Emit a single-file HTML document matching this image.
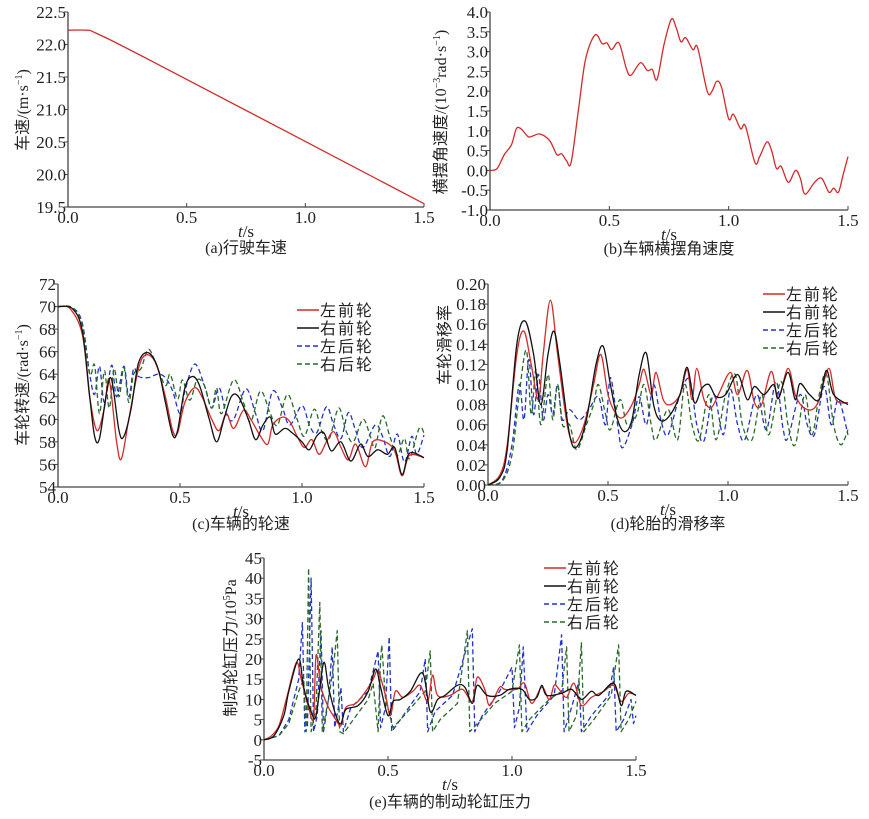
<!DOCTYPE html>
<html><head><meta charset="utf-8">
<style>
body{margin:0;background:#fff;}
svg{display:block;font-family:"Liberation Serif","Noto Serif CJK SC",serif;}
.tk{font-size:17px;fill:#222;}
.cap{font-size:16px;fill:#222;font-family:"Liberation Serif","Noto Sans CJK SC",serif;}
.yt{font-size:16px;fill:#222;font-family:"Liberation Serif","Noto Sans CJK SC",sans-serif;}
.lg{font-size:16px;fill:#222;font-family:"Noto Sans CJK SC",sans-serif;letter-spacing:2px;}
</style></head>
<body>
<svg id="fig" width="869" height="819" viewBox="0 0 869 819"></svg>
<script>
// ---------- DATA ----------
const seriesNames=["左前轮","右前轮","左后轮","右后轮"];
const xTicks=[0,0.5,1.0,1.5];
const xTickLabels=["0.0","0.5","1.0","1.5"];
// (a)
const aT=[0,0.08,0.12,0.35,1.5];
const aV=[22.22,22.22,22.17,21.75,19.55];
const aYTicks=[19.5,20.0,20.5,21.0,21.5,22.0,22.5];
// (b)
const bT=[0,0.03,0.06,0.09,0.11,0.13,0.16,0.18,0.21,0.25,0.28,0.30,0.32,0.34,0.37,0.40,0.44,0.47,0.49,0.51,0.54,0.57,0.59,0.63,0.66,0.68,0.70,0.73,0.76,0.78,0.80,0.82,0.85,0.87,0.91,0.93,0.95,0.97,1.00,1.02,1.05,1.07,1.11,1.13,1.16,1.18,1.20,1.22,1.25,1.28,1.30,1.32,1.36,1.39,1.42,1.44,1.46,1.48,1.5];
const bV=[0,0.05,0.4,0.65,1.05,1.05,0.85,0.87,0.92,0.75,0.4,0.42,0.25,0.2,1.5,2.8,3.42,3.2,3.22,3.05,3.22,2.6,2.4,2.72,2.52,2.55,2.3,3.2,3.82,3.6,3.25,3.35,3.05,3.1,2.0,2.0,2.25,2.1,1.3,1.42,1.05,1.12,0.2,0.35,0.72,0.5,0.05,0.1,-0.3,0.0,-0.2,-0.6,-0.3,-0.2,-0.55,-0.45,-0.55,-0.1,0.35];
const bYTicks=[-1.0,-0.5,0.0,0.5,1.0,1.5,2.0,2.5,3.0,3.5,4.0];
// (c)
const cLF_T=[0,0.05,0.1,0.13,0.16,0.19,0.21,0.24,0.26,0.29,0.33,0.36,0.40,0.44,0.47,0.49,0.52,0.56,0.59,0.63,0.66,0.69,0.72,0.76,0.79,0.83,0.86,0.88,0.92,0.95,0.98,1.01,1.04,1.07,1.10,1.13,1.16,1.19,1.22,1.26,1.29,1.34,1.38,1.41,1.44,1.5];
const cLF_V=[70,69.8,67.5,62,59,61,63.5,58,56.5,60,64.5,65.7,65,62,59,58.8,61.5,62.8,62,60,59,60.5,59.2,60.8,60,58.5,57.8,59.5,60.2,59.8,58.5,57.5,58.2,56.9,58,58.9,57.5,56.4,57.8,55.8,58,58,57.2,55,56.8,56.6];
const cRF_T=[0,0.06,0.1,0.13,0.15,0.17,0.2,0.22,0.25,0.27,0.3,0.33,0.37,0.41,0.44,0.47,0.49,0.52,0.55,0.58,0.62,0.65,0.68,0.71,0.74,0.78,0.81,0.84,0.87,0.89,0.93,0.96,1.0,1.03,1.06,1.09,1.12,1.16,1.20,1.24,1.27,1.31,1.35,1.38,1.41,1.44,1.5];
const cRF_V=[70,69.8,67.8,62,58.5,58.3,62.5,63.5,59,58.5,61,65,65.9,64.5,61.5,58.6,59,62.8,63.8,63,60,58,60,62,62,60,58.2,59.5,60.2,58.7,59.2,58.8,58,57.3,58.5,58.8,57.2,58,56.3,57.8,56.7,57.3,56.9,57.5,55.1,57,56.6];
const cLR_T=[0,0.06,0.1,0.13,0.15,0.17,0.19,0.22,0.24,0.27,0.29,0.31,0.33,0.37,0.41,0.44,0.47,0.5,0.52,0.56,0.6,0.63,0.66,0.69,0.72,0.77,0.81,0.84,0.88,0.92,0.95,1.00,1.03,1.06,1.10,1.13,1.16,1.19,1.22,1.25,1.30,1.33,1.36,1.39,1.42,1.45,1.47,1.5];
const cLR_V=[70,69.9,68.5,64,62.2,64.7,61.5,64.8,62,64.7,62,64.5,63.8,63.7,64,63.7,62.5,60.5,62.5,64.9,63,61,62.8,60.5,60,62.7,60.5,59,62.5,61,59.5,61.2,59.5,58.8,61.1,59.5,58.3,60.6,59,57.5,59.5,58.5,56.7,58.7,56.2,58.5,56.9,58.6];
const cRR_T=[0,0.06,0.1,0.13,0.15,0.17,0.19,0.21,0.23,0.25,0.27,0.29,0.31,0.34,0.37,0.40,0.44,0.46,0.49,0.51,0.54,0.57,0.6,0.63,0.65,0.67,0.72,0.76,0.79,0.83,0.87,0.9,0.94,0.98,1.01,1.05,1.08,1.11,1.15,1.18,1.21,1.25,1.28,1.3,1.33,1.36,1.39,1.42,1.44,1.48,1.5];
const cRR_V=[70,69.9,68.3,64,64.8,60.5,64.3,61,64.5,62,64.6,61.5,64,64.5,66.2,65,63,64,61.8,63.5,61.7,63.5,63,61,62.8,60.5,63.5,61.5,59.8,62.5,60.5,59.5,62.2,60,58.5,60.9,59,58.2,61,59,58,60,58.5,57.5,60.3,58.5,56.8,58.3,56.5,59.2,58.8];
const cYTicks=[54,56,58,60,62,64,66,68,70,72];
// (d)
const dLF_T=[0,0.05,0.08,0.12,0.15,0.18,0.21,0.23,0.26,0.29,0.33,0.36,0.40,0.44,0.47,0.50,0.53,0.56,0.60,0.63,0.65,0.68,0.70,0.73,0.76,0.80,0.83,0.85,0.87,0.9,0.93,0.96,1.01,1.04,1.08,1.11,1.14,1.18,1.21,1.25,1.28,1.31,1.35,1.38,1.42,1.45,1.5];
const dLF_V=[0,0.01,0.04,0.13,0.153,0.12,0.085,0.13,0.184,0.13,0.06,0.042,0.06,0.1,0.13,0.09,0.072,0.067,0.08,0.1,0.115,0.09,0.112,0.085,0.08,0.09,0.115,0.085,0.116,0.085,0.077,0.09,0.112,0.09,0.114,0.082,0.08,0.113,0.087,0.116,0.09,0.078,0.075,0.085,0.116,0.085,0.082];
const dRF_T=[0,0.05,0.08,0.12,0.155,0.19,0.22,0.25,0.275,0.30,0.34,0.37,0.41,0.45,0.48,0.51,0.54,0.57,0.6,0.63,0.66,0.69,0.72,0.76,0.80,0.83,0.86,0.89,0.92,0.95,0.99,1.04,1.08,1.11,1.15,1.19,1.21,1.25,1.28,1.30,1.34,1.38,1.41,1.44,1.5];
const dRF_V=[0,0.008,0.035,0.14,0.163,0.13,0.08,0.13,0.153,0.12,0.05,0.038,0.065,0.12,0.138,0.1,0.065,0.053,0.065,0.11,0.131,0.08,0.064,0.07,0.09,0.117,0.082,0.096,0.1,0.088,0.09,0.11,0.085,0.098,0.09,0.1,0.086,0.112,0.085,0.101,0.09,0.085,0.114,0.09,0.08];
const dLR_T=[0,0.06,0.1,0.13,0.15,0.17,0.19,0.21,0.23,0.25,0.27,0.29,0.31,0.34,0.38,0.42,0.46,0.49,0.51,0.54,0.56,0.60,0.63,0.66,0.69,0.72,0.75,0.80,0.84,0.87,0.9,0.94,0.98,1.01,1.04,1.07,1.12,1.16,1.2,1.23,1.25,1.3,1.33,1.36,1.4,1.43,1.46,1.5];
const dLR_V=[0,0.005,0.04,0.1,0.065,0.125,0.07,0.11,0.065,0.09,0.07,0.1,0.065,0.075,0.065,0.075,0.088,0.06,0.107,0.06,0.037,0.06,0.088,0.06,0.1,0.065,0.05,0.09,0.105,0.06,0.044,0.09,0.05,0.095,0.06,0.045,0.09,0.055,0.103,0.055,0.047,0.09,0.06,0.05,0.098,0.06,0.085,0.05];
const dRR_T=[0,0.06,0.1,0.13,0.16,0.18,0.20,0.22,0.25,0.27,0.29,0.31,0.34,0.37,0.41,0.44,0.46,0.49,0.51,0.55,0.58,0.62,0.65,0.68,0.70,0.75,0.79,0.82,0.85,0.88,0.92,0.95,0.99,1.03,1.06,1.1,1.14,1.17,1.22,1.25,1.28,1.32,1.35,1.38,1.41,1.44,1.47,1.5];
const dRR_V=[0,0.004,0.03,0.09,0.134,0.07,0.115,0.06,0.11,0.065,0.1,0.06,0.06,0.035,0.06,0.08,0.1,0.07,0.055,0.085,0.06,0.07,0.1,0.06,0.045,0.075,0.045,0.1,0.06,0.045,0.09,0.045,0.09,0.11,0.06,0.045,0.09,0.05,0.103,0.06,0.04,0.09,0.05,0.09,0.11,0.06,0.04,0.055];
const dYTicks=[0,0.02,0.04,0.06,0.08,0.10,0.12,0.14,0.16,0.18,0.20];
const dYTickLabels=["0.00","0.02","0.04","0.06","0.08","0.10","0.12","0.14","0.16","0.18","0.20"];
// (e)
const eLF_T=[0,0.03,0.06,0.09,0.13,0.15,0.18,0.2,0.21,0.23,0.26,0.29,0.31,0.33,0.37,0.41,0.44,0.46,0.49,0.51,0.53,0.56,0.6,0.63,0.66,0.68,0.7,0.75,0.8,0.84,0.86,0.89,0.91,0.95,0.97,1.02,1.05,1.08,1.12,1.15,1.17,1.19,1.22,1.25,1.28,1.32,1.37,1.41,1.44,1.47,1.5];
const eLF_V=[0,1,3.5,10,19,15,8,5.5,21,13,8,5,3.5,8,9,12,15,17,11,6,12,10.5,12,13.5,9.5,16,11,11,12.5,9.5,15.5,12.5,8.5,13,12.5,12.5,14,9,13,10,13.5,12.5,10.5,14,8.5,10.5,12,13.5,9.5,11.5,11];
const eRF_T=[0,0.04,0.08,0.1,0.14,0.16,0.19,0.21,0.24,0.26,0.29,0.31,0.33,0.38,0.42,0.45,0.47,0.5,0.52,0.55,0.59,0.64,0.67,0.7,0.73,0.78,0.81,0.84,0.86,0.9,0.95,0.99,1.04,1.07,1.1,1.12,1.14,1.2,1.24,1.28,1.32,1.35,1.41,1.44,1.46,1.5];
const eRF_V=[0,1,6,12,20,13,7,6,19,13,6,4,7.5,8.5,12,17.5,13,6,9.5,10,12,16.5,7,10,11,13.5,13,9,13.5,11,11,12.5,12.5,10,10.5,13.5,11,11.5,12.5,10,12,11,14,8.5,12,11];
const eLR_T=[0,0.06,0.1,0.14,0.155,0.165,0.175,0.19,0.2,0.215,0.23,0.24,0.26,0.275,0.285,0.3,0.31,0.32,0.35,0.42,0.46,0.47,0.49,0.505,0.515,0.55,0.63,0.65,0.66,0.69,0.76,0.84,0.85,0.88,0.95,1.0,1.01,1.03,1.045,1.06,1.1,1.17,1.2,1.21,1.24,1.27,1.28,1.32,1.39,1.41,1.42,1.45,1.48,1.49,1.5];
const eLR_V=[0,1,5,15,29,2,3,40,2,6,27,2,10,23,3,8,13,2,8,12,22,3,8,25.5,2,5,12,20,2,7,11,27.5,2,6,12,18,3,8,23,2,6,11,26,2,8,14.5,2,6,11,18,2,5,10,4,6];
const eRR_T=[0,0.06,0.1,0.14,0.16,0.17,0.18,0.19,0.21,0.225,0.235,0.26,0.28,0.295,0.305,0.32,0.36,0.42,0.44,0.46,0.47,0.475,0.49,0.52,0.58,0.65,0.67,0.68,0.71,0.78,0.82,0.83,0.86,0.93,1.0,1.03,1.04,1.07,1.15,1.2,1.22,1.23,1.26,1.28,1.29,1.33,1.4,1.43,1.44,1.47,1.5];
const eRR_V=[0,1,4,12,15,2,42.5,2,8,34,2,10,18,27,2,1.5,5,10,14,2,20,23.5,10,3,7,12,22,2,5,9,27,2,4,9,12,23.5,2,5,10,12,23,2,6,24,2,5,11,23.5,2,5,9.5];
const eYTicks=[-5,0,5,10,15,20,25,30,35,40,45];

// ---------- RENDER ----------
const NS="http://www.w3.org/2000/svg";
const svg=document.getElementById('fig');
function mk(tag,attrs,parent){const e=document.createElementNS(NS,tag);for(const k in attrs)e.setAttribute(k,attrs[k]);(parent||svg).appendChild(e);return e;}
function smoothPath(px,py){let d="M"+px[0].toFixed(1)+","+py[0].toFixed(1);for(let i=0;i<px.length-1;i++){const x0=px[Math.max(0,i-1)],y0=py[Math.max(0,i-1)],x1=px[i],y1=py[i],x2=px[i+1],y2=py[i+1],x3=px[Math.min(px.length-1,i+2)],y3=py[Math.min(px.length-1,i+2)];const c1x=x1+(x2-x0)/6,c1y=y1+(y2-y0)/6,c2x=x2-(x3-x1)/6,c2y=y2-(y3-y1)/6;d+=" C"+c1x.toFixed(1)+","+c1y.toFixed(1)+" "+c2x.toFixed(1)+","+c2y.toFixed(1)+" "+x2.toFixed(1)+","+y2.toFixed(1);}return d;}
function linPath(px,py){return px.map((x,i)=>(i?"L":"M")+x.toFixed(1)+","+py[i].toFixed(1)).join(" ");}

function panel(cfg){
  const g=mk('g',{});
  
  
  const X=t=>cfg.x0+(t-0)/(1.5)*(cfg.x1-cfg.x0);
  const Y=v=>cfg.y1-(v-cfg.ymin)/(cfg.ymax-cfg.ymin)*(cfg.y1-cfg.y0);
  const ax=mk('path',{d:`M${cfg.x0},${cfg.y0} L${cfg.x0},${cfg.y1} L${cfg.x1},${cfg.y1}`,fill:'none',stroke:'#444','stroke-width':1.3},g);
  
  
  cfg.yticks.forEach((v,i)=>{
    const y=Y(v);
    mk('line',{x1:cfg.x0,x2:cfg.x0-4,y1:y,y2:y,stroke:'#444','stroke-width':1},g);
    const t=mk('text',{x:cfg.x0-2,y:y+6,'text-anchor':'end',class:'tk'},g);
    t.textContent=cfg.ylabels?cfg.ylabels[i]:v.toFixed(cfg.dec);
    
    
  });
  xTicks.forEach((v,i)=>{
    const x=X(v);
    mk('line',{x1:x,x2:x,y1:cfg.y1,y2:cfg.y1-4,stroke:'#444','stroke-width':1},g);
    const t=mk('text',{x:x,y:cfg.y1+16,'text-anchor':'middle',class:'tk'},g);
    t.textContent=xTickLabels[i];
    
    
  });
  const xl=mk('text',{x:(cfg.x0+cfg.x1)/2,y:cfg.y1+30,'text-anchor':'middle',class:'tk'},g);
  xl.innerHTML='<tspan font-style="italic">t</tspan>/s';
  
  
  const cp=mk('text',{x:(cfg.x0+cfg.x1)/2,y:cfg.capY,'text-anchor':'middle',class:'cap'},g);
  cp.textContent=cfg.caption;
  
  
  const yt=mk('text',{x:0,y:0,'text-anchor':'middle',class:'yt',transform:`translate(${cfg.ytx},${cfg.yty}) rotate(-90)`},g);
  yt.innerHTML=cfg.ytitle;
  
  
  const styles=[{c:'#d42a2a',d:''},{c:'#111',d:''},{c:'#2233cc',d:'5,3'},{c:'#2a6a2a',d:'5,3'}];
  cfg.series.forEach((s)=>{
    const px=s.t.map(X),py=s.v.map(Y);
    const st=styles[s.style];
    const p=mk('path',{d:s.lin?linPath(px,py):smoothPath(px,py),fill:'none',stroke:st.c,'stroke-width':1.3,'stroke-dasharray':st.d,'stroke-linejoin':'round'},g);
    
    
  });
  if(cfg.legend){
    const lg=mk('g',{},g);
    
    
    seriesNames.forEach((n,i)=>{
      const y=cfg.legend.y+i*cfg.legend.dy;
      const st=styles[i];
      mk('line',{x1:cfg.legend.x,x2:cfg.legend.x+22,y1:y,y2:y,stroke:st.c,'stroke-width':1.4,'stroke-dasharray':st.d},lg);
      const t=mk('text',{x:cfg.legend.x+23,y:y+6,class:'lg'},lg);
      t.textContent=n;
      
      
    });
  }
}

panel({name:'chart-a-vehicle-speed',x0:68,x1:424,y0:12,y1:207,ymin:19.5,ymax:22.5,yticks:aYTicks,dec:1,caption:'(a)行驶车速',capY:253,ytx:28,yty:110,
  ytitle:'车速/(m·s<tspan dy="-6" font-size="10">−1</tspan><tspan dy="6">)</tspan>',
  series:[{t:aT,v:aV,style:0}]});
panel({name:'chart-b-yaw-rate',x0:490,x1:848,y0:12,y1:210,ymin:-1,ymax:4,yticks:bYTicks,dec:1,caption:'(b)车辆横摆角速度',capY:254,ytx:446,yty:112,
  ytitle:'横摆角速度/(10<tspan dy="-6" font-size="10">−3</tspan><tspan dy="6">rad·s</tspan><tspan dy="-6" font-size="10">−1</tspan><tspan dy="6">)</tspan>',
  series:[{t:bT,v:bV,style:0}]});
panel({name:'chart-c-wheel-speed',x0:58,x1:424,y0:284,y1:487,ymin:54,ymax:72,yticks:cYTicks,dec:0,caption:'(c)车辆的轮速',capY:529,ytx:28,yty:385,
  ytitle:'车轮转速/(rad·s<tspan dy="-6" font-size="10">−1</tspan><tspan dy="6">)</tspan>',
  legend:{x:297,y:310,dy:18},
  series:[{t:cLR_T,v:cLR_V,style:2},{t:cRR_T,v:cRR_V,style:3},{t:cLF_T,v:cLF_V,style:0},{t:cRF_T,v:cRF_V,style:1}]});
panel({name:'chart-d-slip-ratio',x0:488,x1:848,y0:284,y1:485,ymin:0,ymax:0.2,yticks:dYTicks,ylabels:dYTickLabels,caption:'(d)轮胎的滑移率',capY:529,ytx:450,yty:345,
  ytitle:'车轮滑移率',
  legend:{x:763,y:294,dy:18},
  series:[{t:dLR_T,v:dLR_V,style:2},{t:dRR_T,v:dRR_V,style:3},{t:dLF_T,v:dLF_V,style:0},{t:dRF_T,v:dRF_V,style:1}]});
panel({name:'chart-e-brake-pressure',x0:264,x1:636,y0:558,y1:760,ymin:-5,ymax:45,yticks:eYTicks,dec:0,caption:'(e)车辆的制动轮缸压力',capY:807,ytx:236,yty:648,
  ytitle:'制动轮缸压力/10<tspan dy="-6" font-size="10">5</tspan><tspan dy="6">Pa</tspan>',
  legend:{x:544,y:568,dy:18},
  series:[{t:eLR_T,v:eLR_V,style:2,lin:true},{t:eRR_T,v:eRR_V,style:3,lin:true},{t:eLF_T,v:eLF_V,style:0},{t:eRF_T,v:eRF_V,style:1}]});
</script>
</body></html>
